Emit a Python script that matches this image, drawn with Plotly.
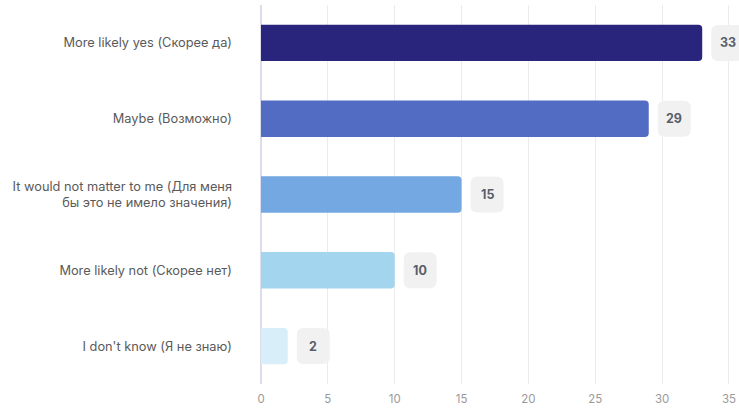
import plotly.graph_objects as go

categories = [
    "More likely yes (Скорее да)",
    "Maybe (Возможно)",
    "It would not matter to me (Для меня<br>бы это не имело значения)",
    "More likely not (Скорее нет)",
    "I don't know (Я не знаю)",
]
values = [33, 29, 15, 10, 2]
colors = ["#29257c", "#536cc3", "#73a8e2", "#a3d5ef", "#d8eff9"]
x_ticks = [0, 5, 10, 15, 20, 25, 30, 35]

fig = go.Figure()
fig.add_trace(go.Bar(
    x=values, y=categories, orientation="h",
    marker=dict(color=colors, cornerradius=4, line=dict(width=0)),
    width=0.48, hoverinfo="skip",
))

def rounded_path(x0, y0, x1, y1, r):
    return (f"M {x0+r},{y0} L {x1-r},{y0} Q {x1},{y0} {x1},{y0+r} "
            f"L {x1},{y1-r} Q {x1},{y1} {x1-r},{y1} L {x0+r},{y1} "
            f"Q {x0},{y1} {x0},{y1-r} L {x0},{y0+r} Q {x0},{y0} {x0+r},{y0} Z")

for cat, v in zip(categories, values):
    fig.add_shape(
        type="path", xref="x", yref="y",
        xsizemode="pixel", ysizemode="pixel",
        xanchor=v, yanchor=cat,
        path=rounded_path(9, -18, 42, 18, 7),
        fillcolor="#f1f1f1", line=dict(width=0), layer="above",
    )
    fig.add_annotation(
        x=v, y=cat, xref="x", yref="y", text=f"<b>{v}</b>",
        showarrow=False, xanchor="center", xshift=25.5,
        font=dict(size=12.5, color="#5a5e6a", family="Inter"),
    )

fig.update_layout(
    width=739, height=410,
    margin=dict(l=261, r=0, t=5, b=26),
    paper_bgcolor="white", plot_bgcolor="white",
    showlegend=False,
    font=dict(family="Inter", size=12, color="#666666"),
    xaxis=dict(
        range=[0, 35.75], tickvals=x_ticks, showgrid=True,
        gridcolor="#ebebeb", gridwidth=1, zeroline=True,
        zerolinecolor="#dcdcea", zerolinewidth=2,
        tickfont=dict(size=11.5, color="#9a9a9a"), ticks="",
        ticklabelstandoff=6, fixedrange=True,
    ),
    yaxis=dict(
        autorange="reversed", showgrid=False, zeroline=False,
        tickfont=dict(size=12.8, color="#5a5a5a"), ticks="",
        ticklabelstandoff=28,
    ),
)

fig.write_html("out.html")
